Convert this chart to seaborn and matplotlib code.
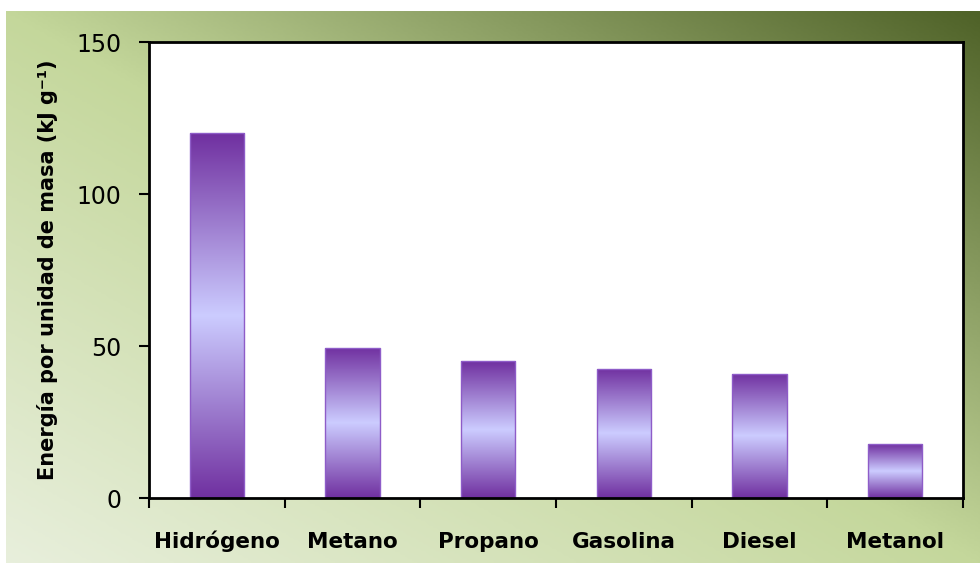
import numpy as np
import matplotlib
matplotlib.use("Agg")
import matplotlib.pyplot as plt
from matplotlib.colors import LinearSegmentedColormap
import seaborn as sns

# Energy content per unit mass of common fuels
fuels = ["Hidrógeno", "Metano", "Propano", "Gasolina", "Diesel", "Metanol"]
energy_kj_per_g = [120, 49.5, 45, 42.5, 40.8, 17.7]
y_ticks = [0, 50, 100, 150]
y_label = "Energía por unidad de masa (kJ g⁻¹)"

sns.set_theme(style="white")
plt.rcParams["font.family"] = ["DejaVu Sans"]

W, H = 980, 565
fig = plt.figure(figsize=(W / 100, H / 100), dpi=100, facecolor="white")

# Diagonal green backdrop: pale at lower-left, dark olive at upper-right
bg = fig.add_axes([6 / W, 2 / H, 1 - 6 / W, 1 - 13 / H])
bg.set_axis_off()
nx, ny = 400, 240
xx, yy = np.meshgrid(np.linspace(0, 1, nx), np.linspace(0, 1, ny))
t = (xx + yy) / 2  # 0 at bottom-left, 1 at top-right
bg_cmap = LinearSegmentedColormap.from_list(
    "olive", [(0.0, "#e8efdc"), (0.5, "#c4d79b"), (1.0, "#4f6228")]
)
bg.imshow(t, cmap=bg_cmap, origin="lower", extent=[0, 1, 0, 1], aspect="auto",
          interpolation="bilinear")
bg.set_xlim(0, 1)
bg.set_ylim(0, 1)

# Plot area
ax = fig.add_axes([149 / W, (H - 498) / H, (963 - 149) / W, (498 - 42) / H])
ax.set_facecolor("white")

sns.barplot(x=fuels, y=energy_kj_per_g, ax=ax, width=0.4, color="#7030a0",
            edgecolor="#8e5cc8", linewidth=1.0, zorder=2)

# Vertical purple gradient inside each bar: dark at the ends, lavender in the middle
bar_cmap = LinearSegmentedColormap.from_list(
    "violet", [(0.0, "#7030a0"), (0.5, "#ccccff"), (1.0, "#7030a0")]
)
grad = np.linspace(0, 1, 256).reshape(-1, 1)
for patch in ax.patches:
    x0, y0 = patch.get_x(), patch.get_y()
    w, h = patch.get_width(), patch.get_height()
    patch.set_facecolor("none")
    im = ax.imshow(grad, cmap=bar_cmap, origin="lower", aspect="auto",
                   extent=[x0, x0 + w, y0, y0 + h], zorder=1.5,
                   interpolation="bilinear")
    im.set_clip_path(patch)

ax.set_xlim(-0.5, len(fuels) - 0.5)
ax.set_ylim(0, 150)
ax.set_yticks(y_ticks)
ax.set_yticklabels([str(v) for v in y_ticks], fontsize=17)
ax.set_xticks(range(len(fuels)))
ax.set_xticklabels(fuels, fontsize=15.5, fontweight="bold")
for lbl in ax.get_xticklabels():
    lbl.set_verticalalignment("baseline")
ax.set_xticks(np.arange(-0.5, len(fuels), 1.0), minor=True)
ax.tick_params(axis="x", which="major", length=0, pad=36, colors="black")
ax.tick_params(axis="x", which="minor", length=7, width=1.5, direction="out",
               color="black", bottom=True)
ax.tick_params(axis="y", which="major", length=7, width=1.5, direction="out",
               color="black", left=True, pad=13, labelcolor="black")
ax.set_xlabel("")
ax.set_ylabel(y_label, fontsize=15, fontweight="bold", labelpad=13, color="black")

for side in ["left", "bottom", "top", "right"]:
    ax.spines[side].set_visible(True)
    ax.spines[side].set_color("black")
    ax.spines[side].set_linewidth(2.0)

fig.savefig("out.png", dpi=100, facecolor="white")
